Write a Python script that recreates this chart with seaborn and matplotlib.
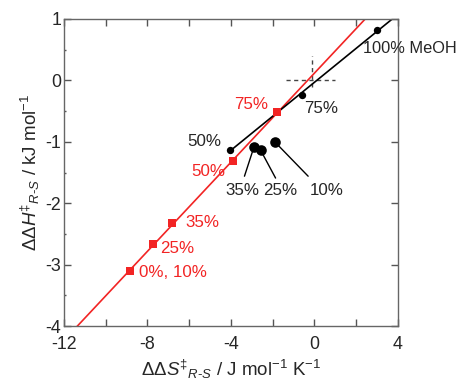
import numpy as np
import pandas as pd
import matplotlib
matplotlib.use("Agg")
import matplotlib.pyplot as plt
import seaborn as sns
from matplotlib.ticker import MultipleLocator

# ---- data ----
black_labels = ['100% MeOH', '75%', '50%', '35%', '25%', '10%']
black_dS = [3.0, -0.6, -4.05, -2.9, -2.57, -1.87]
black_dH = [0.82, -0.24, -1.13, -1.09, -1.14, -1.01]
black_big = [False, False, False, True, True, True]

red_labels = ['75%', '50%', '35%', '25%', '0%, 10%']
red_dS = [-1.78, -3.9, -6.8, -7.73, -8.81]
red_dH = [-0.52, -1.32, -2.33, -2.67, -3.10]

xticks = [-12, -8, -4, 0, 4]
yticks = [-4, -3, -2, -1, 0, 1]

RED = '#f22424'

sns.set_style('ticks')
plt.rcParams['font.family'] = ['Liberation Sans', 'DejaVu Sans']
plt.rcParams['mathtext.fontset'] = 'custom'
plt.rcParams['mathtext.rm'] = 'Liberation Sans'
plt.rcParams['mathtext.it'] = 'Liberation Sans:italic'
plt.rcParams['axes.unicode_minus'] = False

fig = plt.figure(figsize=(4.59, 3.80), dpi=100)
ax = fig.add_axes([0.139, 0.142, 0.728, 0.808])

bdf = pd.DataFrame({'dS': black_dS, 'dH': black_dH, 'lab': black_labels, 'big': black_big})
rdf = pd.DataFrame({'dS': red_dS, 'dH': red_dH, 'lab': red_labels})

# fit lines
rs, ri = np.polyfit(rdf['dS'], rdf['dH'], 1)
rx = np.array([-12.0, 4.0])
sns.lineplot(x=rx, y=rs * rx + ri, ax=ax, color=RED, lw=1.2, zorder=2)

fit_b = bdf.iloc[:3]
bs, bi = np.polyfit(fit_b['dS'], fit_b['dH'], 1)
bx = np.array([-4.1, 4.0])
sns.lineplot(x=bx, y=bs * bx + bi, ax=ax, color='black', lw=1.2, zorder=2)

# dashed cross
ax.plot([-1.35, 0.97], [0, 0], ls=(0, (3, 2.5)), color='#444444', lw=1.0, zorder=1)
ax.plot([-0.12, -0.12], [-0.1, 0.39], ls=(0, (3, 2.5)), color='#444444', lw=1.0, zorder=1)

# points
small = bdf[~bdf['big']]
big = bdf[bdf['big']]
sns.scatterplot(data=small, x='dS', y='dH', ax=ax, color='black', s=28, marker='o',
                edgecolor='black', linewidth=0, zorder=4)
sns.scatterplot(data=big, x='dS', y='dH', ax=ax, color='black', s=58, marker='o',
                edgecolor='black', linewidth=0, zorder=4)
sns.scatterplot(data=rdf, x='dS', y='dH', ax=ax, color=RED, s=36, marker='s',
                edgecolor=RED, linewidth=0, zorder=5)

fs = 12.2
# black labels
ax.text(2.35, 0.52, '100% MeOH', fontsize=11.8, ha='left', va='center')
ax.text(-0.47, -0.45, '75%', fontsize=fs, ha='left', va='center')
ax.text(-4.45, -1.0, '50%', fontsize=fs, ha='right', va='center')
ax.text(-3.45, -1.79, '35%', fontsize=fs, ha='center', va='center')
ax.text(-1.66, -1.79, '25%', fontsize=fs, ha='center', va='center')
ax.text(0.57, -1.79, '10%', fontsize=fs, ha='center', va='center')
# leader lines
ax.plot([-2.9, -3.35], [-1.09, -1.56], color='black', lw=1.0, zorder=3)
ax.plot([-2.57, -1.86], [-1.14, -1.59], color='black', lw=1.0, zorder=3)
ax.plot([-1.87, -0.3], [-1.01, -1.56], color='black', lw=1.0, zorder=3)

# red labels
ax.text(-2.2, -0.40, '75%', fontsize=fs, ha='right', va='center', color=RED)
ax.text(-4.25, -1.49, '50%', fontsize=fs, ha='right', va='center', color=RED)
ax.text(-6.2, -2.31, '35%', fontsize=fs, ha='left', va='center', color=RED)
ax.text(-7.4, -2.74, '25%', fontsize=fs, ha='left', va='center', color=RED)
ax.text(-8.4, -3.13, '0%, 10%', fontsize=fs, ha='left', va='center', color=RED)

ax.set_xlim(-12, 4)
ax.set_ylim(-4, 1)
ax.set_xticks(xticks)
ax.set_yticks(yticks)
ax.xaxis.set_minor_locator(MultipleLocator(2))
ax.yaxis.set_minor_locator(MultipleLocator(0.5))
ax.tick_params(which='major', direction='in', length=5, width=1, color='#555555',
               top=True, right=True, labelsize=12.8)
ax.tick_params(which='major', axis='x', pad=7)
ax.tick_params(which='major', axis='y', pad=2)
ax.tick_params(which='minor', axis='x', direction='in', length=5, width=1, color='#555555',
               top=True, bottom=True)
ax.tick_params(which='minor', axis='y', direction='in', length=1.5, width=1, color='#555555',
               left=True, right=False)
for sp in ax.spines.values():
    sp.set_visible(True)
    sp.set_color('#666666')
    sp.set_linewidth(1.0)

ax.set_xlabel(r'ΔΔ$S^{‡}{}_{R\text{-}S}$ / J mol$^{-1}$ K$^{-1}$', fontsize=13.5, labelpad=3.5)
ax.set_ylabel(r'ΔΔ$H^{‡}{}_{R\text{-}S}$ / kJ mol$^{-1}$', fontsize=13.5, labelpad=2)

fig.savefig('out.png', dpi=100)
